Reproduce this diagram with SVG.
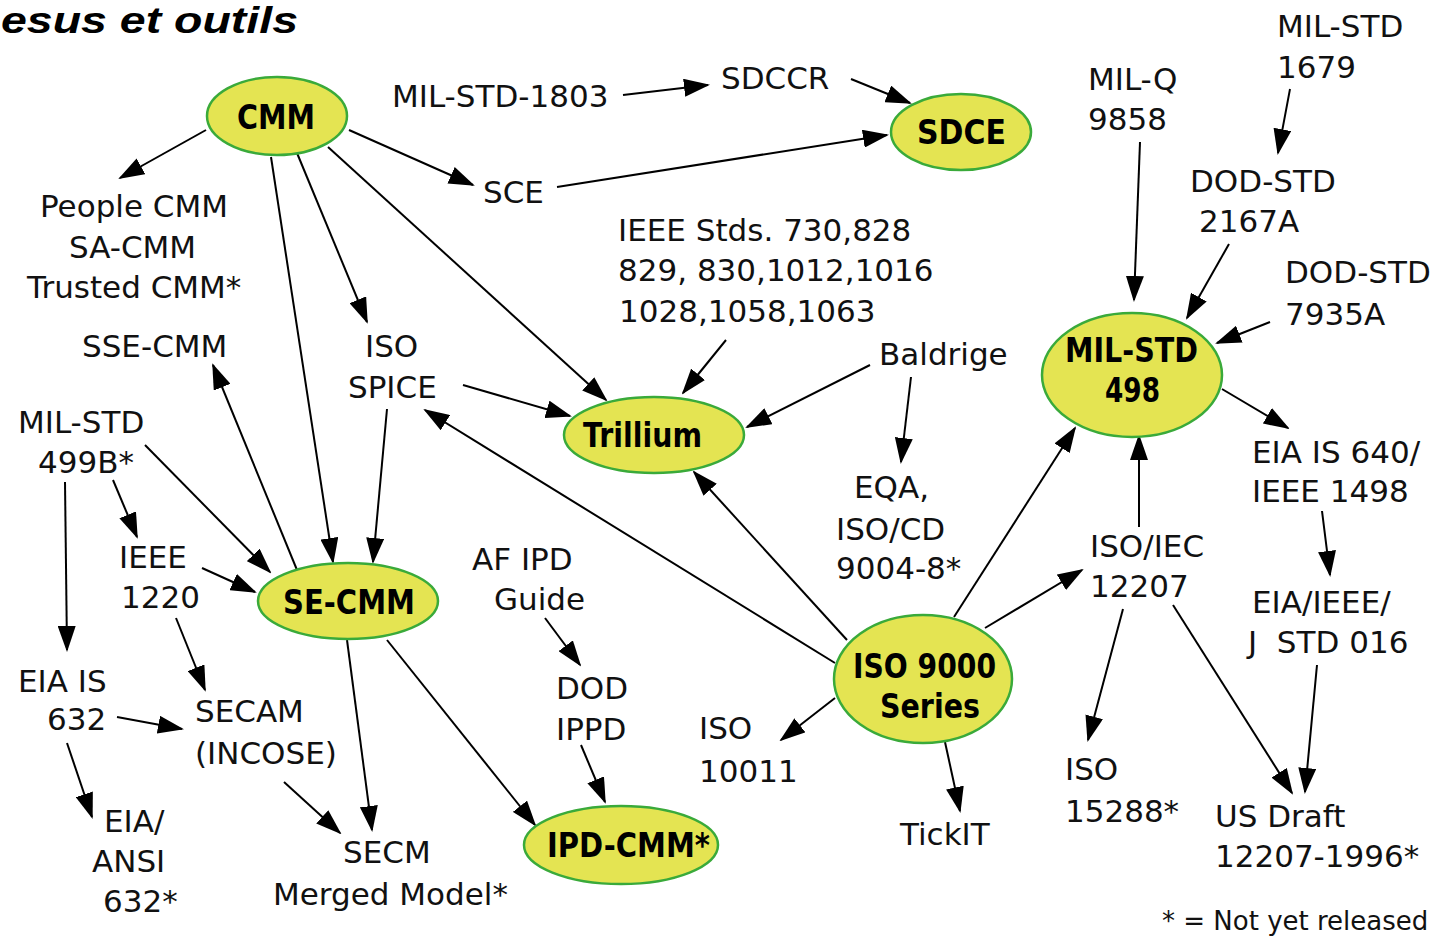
<svg xmlns="http://www.w3.org/2000/svg" width="1440" height="940" viewBox="0 0 1440 940">
<defs>
<marker id="ah" viewBox="0 0 26 18" refX="24" refY="9" markerWidth="26" markerHeight="18" markerUnits="userSpaceOnUse" orient="auto">
<path d="M0,0 L26,9 L0,18 z" fill="#000"/>
</marker>
<style>
.n{fill:#e4e452;stroke:#3aaa3a;stroke-width:2.5}
.t{font-family:"DejaVu Sans","Liberation Sans",sans-serif;font-size:31px;fill:#111}
.b{font-family:"DejaVu Sans","Liberation Sans",sans-serif;font-size:34px;font-weight:bold;fill:#000}
.s{font-family:"DejaVu Sans","Liberation Sans",sans-serif;font-size:26px;fill:#111}
.e line{stroke:#000;stroke-width:2;marker-end:url(#ah)}
</style>
</defs>
<rect width="1440" height="940" fill="#fff"/>
<text x="1" y="33" font-family="'Liberation Sans',Arial,sans-serif" font-size="36" font-weight="bold" font-style="italic" textLength="297" lengthAdjust="spacingAndGlyphs">esus et outils</text>

<g id="connectors" class="e">
<line x1="206" y1="130" x2="120" y2="178"/>
<line x1="349" y1="130" x2="473" y2="185"/>
<line x1="271" y1="157" x2="333" y2="562"/>
<line x1="297" y1="153" x2="367" y2="322"/>
<line x1="328" y1="147" x2="606" y2="400"/>
<line x1="623" y1="95" x2="708" y2="85"/>
<line x1="851" y1="79" x2="910" y2="103"/>
<line x1="557" y1="187" x2="887" y2="135"/>
<line x1="726" y1="340" x2="683" y2="393"/>
<line x1="463" y1="385" x2="570" y2="416"/>
<line x1="870" y1="365" x2="747" y2="427"/>
<line x1="911" y1="377" x2="901" y2="462"/>
<line x1="297" y1="570" x2="213" y2="365"/>
<line x1="387" y1="409" x2="373" y2="562"/>
<line x1="145" y1="445" x2="270" y2="572"/>
<line x1="113" y1="480" x2="137" y2="537"/>
<line x1="202" y1="568" x2="255" y2="592"/>
<line x1="65" y1="482" x2="67" y2="650"/>
<line x1="835" y1="663" x2="425" y2="410"/>
<line x1="847" y1="640" x2="694" y2="472"/>
<line x1="954" y1="617" x2="1075" y2="428"/>
<line x1="985" y1="628" x2="1082" y2="570"/>
<line x1="1139" y1="527" x2="1139" y2="436"/>
<line x1="1290" y1="89" x2="1278" y2="153"/>
<line x1="1140" y1="142" x2="1134" y2="300"/>
<line x1="1229" y1="244" x2="1187" y2="318"/>
<line x1="1270" y1="322" x2="1217" y2="343"/>
<line x1="1222" y1="389" x2="1288" y2="428"/>
<line x1="1322" y1="511" x2="1330" y2="575"/>
<line x1="1123" y1="609" x2="1088" y2="740"/>
<line x1="1173" y1="605" x2="1292" y2="793"/>
<line x1="1317" y1="665" x2="1305" y2="792"/>
<line x1="835" y1="698" x2="781" y2="740"/>
<line x1="945" y1="742" x2="960" y2="811"/>
<line x1="545" y1="618" x2="580" y2="665"/>
<line x1="581" y1="745" x2="605" y2="802"/>
<line x1="387" y1="640" x2="535" y2="825"/>
<line x1="347" y1="640" x2="372" y2="830"/>
<line x1="284" y1="782" x2="340" y2="833"/>
<line x1="117" y1="717" x2="182" y2="729"/>
<line x1="67" y1="743" x2="92" y2="817"/>
<line x1="176" y1="618" x2="205" y2="690"/>
</g>

<g id="cmm"><ellipse class="n" cx="277" cy="116" rx="70" ry="39"/><text class="b" x="237" y="129" textLength="78" lengthAdjust="spacingAndGlyphs">CMM</text></g>
<g id="sdce"><ellipse class="n" cx="961" cy="132" rx="70" ry="38"/><text class="b" x="917" y="144" textLength="89" lengthAdjust="spacingAndGlyphs">SDCE</text></g>
<g id="trillium"><ellipse class="n" cx="654" cy="435" rx="90" ry="38"/><text class="b" x="583" y="447" textLength="119" lengthAdjust="spacingAndGlyphs">Trillium</text></g>
<g id="se-cmm"><ellipse class="n" cx="348" cy="601" rx="90" ry="38"/><text class="b" x="283" y="614" textLength="132" lengthAdjust="spacingAndGlyphs">SE-CMM</text></g>
<g id="ipd-cmm"><ellipse class="n" cx="621" cy="845" rx="97" ry="39"/><text class="b" x="547" y="857" textLength="163" lengthAdjust="spacingAndGlyphs">IPD-CMM*</text></g>
<g id="iso9000"><ellipse class="n" cx="923" cy="679" rx="89" ry="64"/><text class="b" x="853" y="678" textLength="143" lengthAdjust="spacingAndGlyphs">ISO 9000</text><text class="b" x="880" y="718" textLength="100" lengthAdjust="spacingAndGlyphs">Series</text></g>
<g id="milstd498"><ellipse class="n" cx="1132" cy="375" rx="90" ry="62"/><text class="b" x="1065" y="362" textLength="133" lengthAdjust="spacingAndGlyphs">MIL-STD</text><text class="b" x="1105" y="402" textLength="55" lengthAdjust="spacingAndGlyphs">498</text></g>

<g id="people-cmm"><text class="t" x="40" y="217">People CMM</text><text class="t" x="69" y="258">SA-CMM</text><text class="t" x="27" y="298">Trusted CMM*</text></g>
<g id="mil-std-1803"><text class="t" x="392" y="107">MIL-STD-1803</text></g>
<g id="sdccr"><text class="t" x="721" y="89">SDCCR</text></g>
<g id="sce"><text class="t" x="483" y="203">SCE</text></g>
<g id="ieee-stds"><text class="t" x="618" y="241">IEEE Stds. 730,828</text><text class="t" x="618" y="281">829, 830,1012,1016</text><text class="t" x="619" y="322">1028,1058,1063</text></g>
<g id="mil-std-1679"><text class="t" x="1277" y="37">MIL-STD</text><text class="t" x="1277" y="78">1679</text></g>
<g id="mil-q-9858"><text class="t" x="1088" y="90">MIL-Q</text><text class="t" x="1088" y="130">9858</text></g>
<g id="dod-std-2167a"><text class="t" x="1190" y="192">DOD-STD</text><text class="t" x="1199" y="232">2167A</text></g>
<g id="dod-std-7935a"><text class="t" x="1285" y="283">DOD-STD</text><text class="t" x="1285" y="325">7935A</text></g>
<g id="sse-cmm"><text class="t" x="82" y="357">SSE-CMM</text></g>
<g id="iso-spice"><text class="t" x="365" y="357">ISO</text><text class="t" x="348" y="398">SPICE</text></g>
<g id="baldrige"><text class="t" x="879" y="365">Baldrige</text></g>
<g id="mil-std-499b"><text class="t" x="18" y="433">MIL-STD</text><text class="t" x="38" y="473">499B*</text></g>
<g id="eia-is-640"><text class="t" x="1252" y="463">EIA IS 640/</text><text class="t" x="1252" y="502">IEEE 1498</text></g>
<g id="eqa"><text class="t" x="854" y="498">EQA,</text><text class="t" x="836" y="540">ISO/CD</text><text class="t" x="836" y="579">9004-8*</text></g>
<g id="ieee-1220"><text class="t" x="119" y="568">IEEE</text><text class="t" x="121" y="608">1220</text></g>
<g id="af-ipd"><text class="t" x="472" y="570">AF IPD</text><text class="t" x="494" y="610">Guide</text></g>
<g id="iso-iec-12207"><text class="t" x="1090" y="557">ISO/IEC</text><text class="t" x="1090" y="597">12207</text></g>
<g id="j-std-016"><text class="t" x="1252" y="613">EIA/IEEE/</text><text class="t" x="1248" y="653" xml:space="preserve">J  STD 016</text></g>
<g id="eia-is-632"><text class="t" x="18" y="692">EIA IS</text><text class="t" x="47" y="730">632</text></g>
<g id="secam"><text class="t" x="195" y="722">SECAM</text><text class="t" x="195" y="764">(INCOSE)</text></g>
<g id="dod-ippd"><text class="t" x="556" y="699">DOD</text><text class="t" x="556" y="740">IPPD</text></g>
<g id="iso-10011"><text class="t" x="699" y="739">ISO</text><text class="t" x="699" y="782">10011</text></g>
<g id="tickit"><text class="t" x="900" y="845">TickIT</text></g>
<g id="iso-15288"><text class="t" x="1065" y="780">ISO</text><text class="t" x="1065" y="822">15288*</text></g>
<g id="us-draft"><text class="t" x="1215" y="827">US Draft</text><text class="t" x="1215" y="867">12207-1996*</text></g>
<g id="eia-ansi-632"><text class="t" x="104" y="832">EIA/</text><text class="t" x="92" y="872">ANSI</text><text class="t" x="103" y="912">632*</text></g>
<g id="secm"><text class="t" x="343" y="863">SECM</text><text class="t" x="273" y="905">Merged Model*</text></g>
<g id="legend"><text class="s" x="1162" y="930">* = Not yet released</text></g>
</svg>
